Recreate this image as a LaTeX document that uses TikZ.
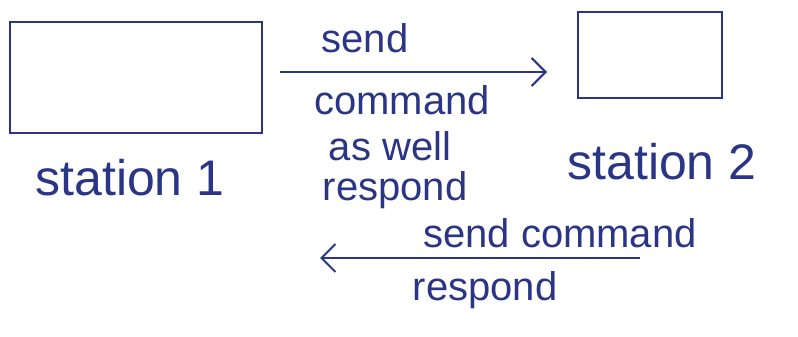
\documentclass[tikz,border=0pt]{standalone}
\usepackage{fontspec}
\setmainfont{Liberation Sans}
\usepackage{xcolor}
\usetikzlibrary{arrows.meta,positioning}
\definecolor{ink}{HTML}{2B3585}

\begin{document}
\begin{tikzpicture}[x=0.5pt,y=-0.5pt,
  stbox/.style={draw=ink,line width=1pt,inner sep=0pt},
  lbl/.style={text=ink,font=\fontsize{20}{24}\selectfont,inner sep=0pt},
  stlbl/.style={text=ink,font=\fontsize{25}{28}\selectfont,inner sep=0pt},
  arr/.style={-{Straight Barb[length=7pt,width=14pt]},draw=ink,line width=1pt}
]
\useasboundingbox (0,0) rectangle (798,337);
% stations
\node[stbox,minimum width=126pt,minimum height=55.5pt] (s1) at (136,77) {};
\node[stbox,minimum width=72pt,minimum height=43pt] (s2) at (650,55) {};
\node[stlbl] (l1) at (130,178) {station 1};
\node[stlbl] (l2) at (662,162) {station 2};
% station 1 -> station 2
\coordinate (a1) at (280,72);
\coordinate (b1) at (547,72);
\draw[arr] (a1) -- (b1);
\node[lbl] (send) at (365,38) {send};
\node[lbl] (cmd) at (402,100) {command};
\node[lbl] (well) at (390,146) {as well};
\node[lbl] (resp) at (395,190) {respond};
% station 2 -> station 1
\coordinate (a2) at (640,258);
\coordinate (b2) at (320,258);
\draw[arr] (a2) -- (b2);
\node[lbl] (send2) at (560,233) {send command};
\node[lbl] (resp2) at (485,290) {respond};
\end{tikzpicture}
\end{document}
